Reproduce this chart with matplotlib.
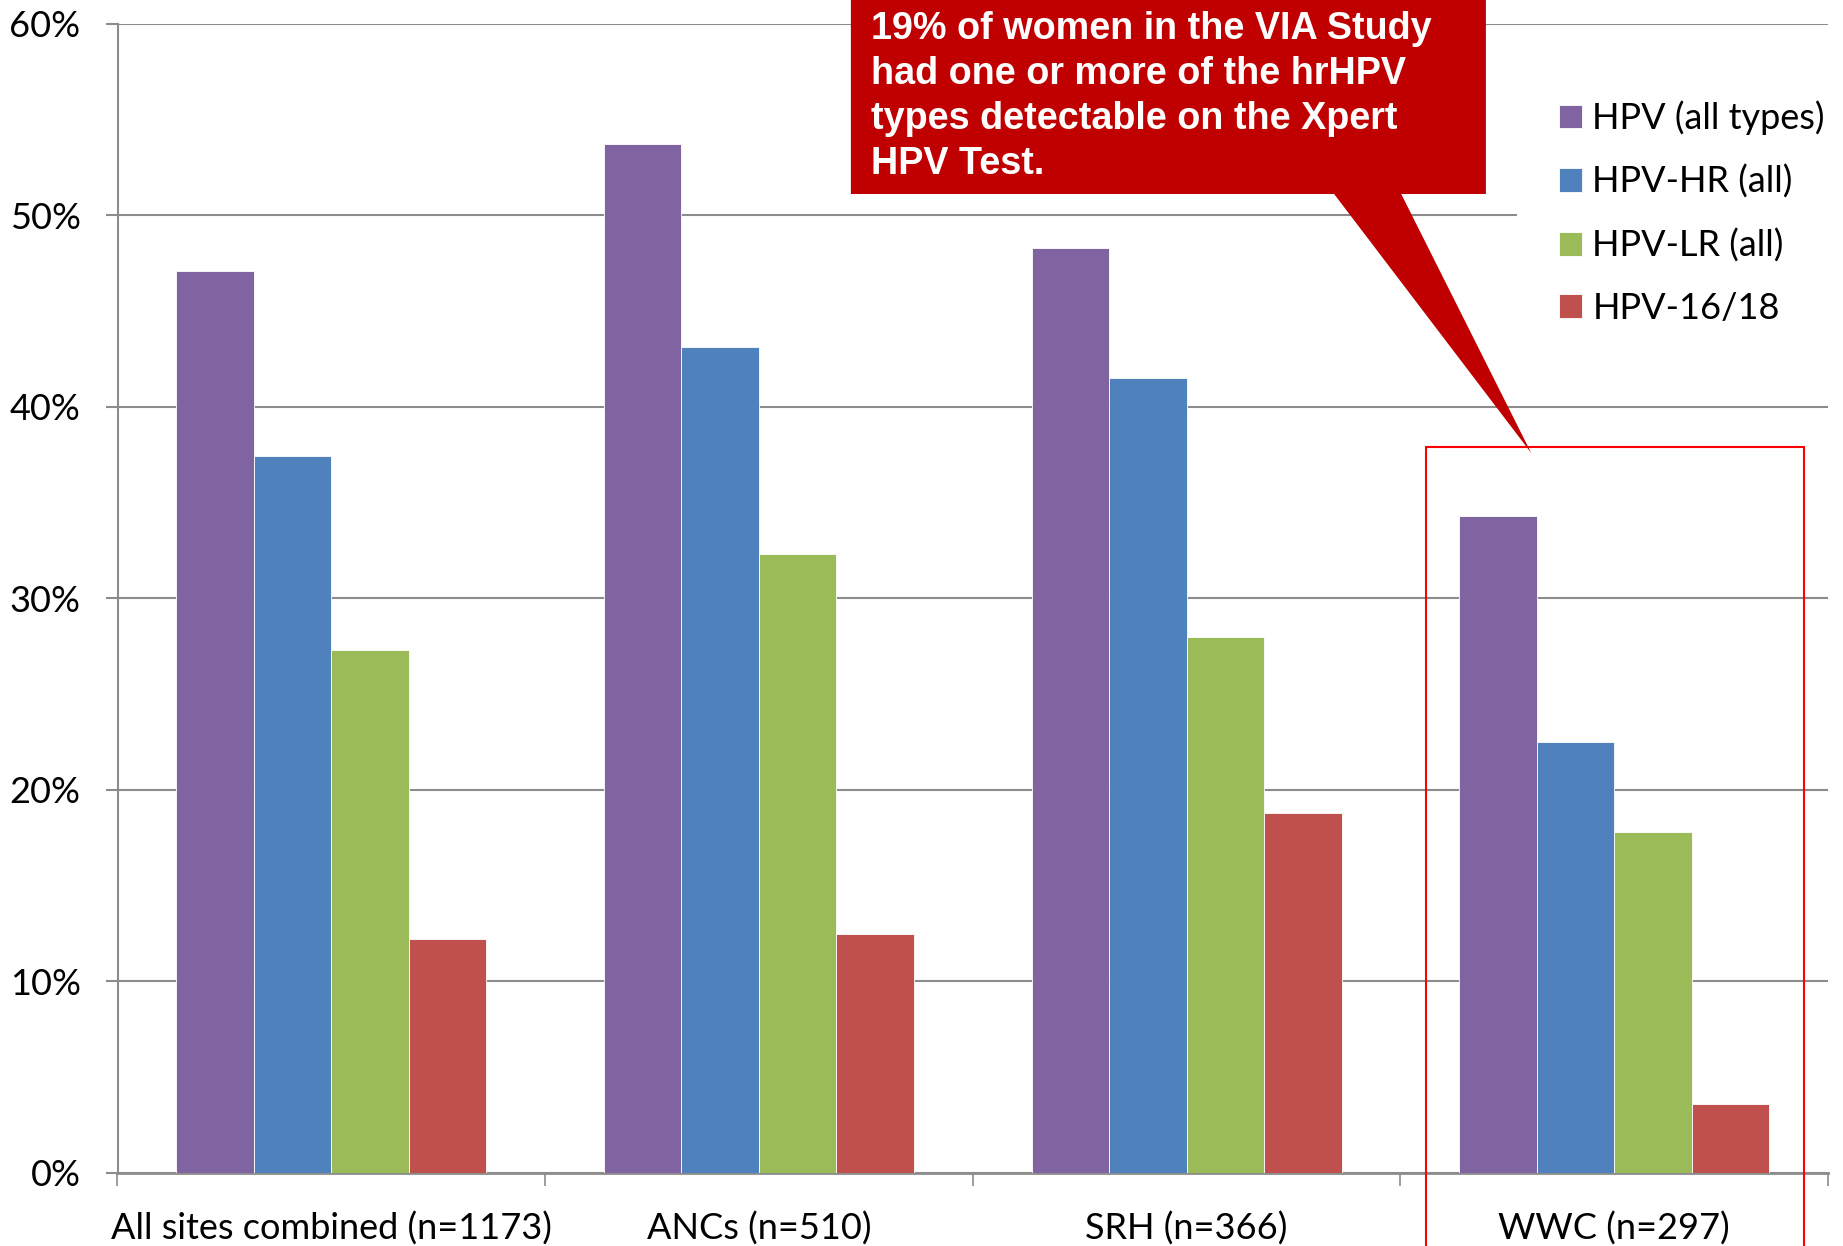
import matplotlib
matplotlib.use("Agg")
import matplotlib.pyplot as plt
from matplotlib.patches import Polygon, Rectangle
import numpy as np

# Prevalence by site (fractions)
categories = ["All sites combined (n=1173)", "ANCs (n=510)", "SRH (n=366)", "WWC (n=297)"]
series_names = ["HPV (all types)", "HPV-HR (all)", "HPV-LR (all)", "HPV-16/18"]
hpv_all = [0.471, 0.537, 0.483, 0.343]
hpv_hr = [0.374, 0.431, 0.415, 0.225]
hpv_lr = [0.273, 0.323, 0.280, 0.178]
hpv_1618 = [0.122, 0.125, 0.188, 0.036]
y_ticks = [0.0, 0.1, 0.2, 0.3, 0.4, 0.5, 0.6]
y_tick_labels = ["0%", "10%", "20%", "30%", "40%", "50%", "60%"]
callout_text = ("19% of women in the VIA Study\n"
                "had one or more of the hrHPV\n"
                "types detectable on the Xpert\n"
                "HPV Test.")

colors = ["#8064A2", "#4F81BD", "#9BBB59", "#C0504D"]
grid_gray = "#8C8C8C"

plt.rcParams["font.family"] = ["Lato", "DejaVu Sans"]

W, H = 1843, 1246
fig = plt.figure(figsize=(W / 100, H / 100), dpi=100)
ax = fig.add_axes([117.5 / W, 1 - 1173 / H, (1828 - 117.5) / W, (1173 - 23.5) / H])

x = np.arange(len(categories))
bar_w = 0.725 / 4
all_series = [hpv_all, hpv_hr, hpv_lr, hpv_1618]
for i, (vals, name) in enumerate(zip(all_series, series_names)):
    offs = (i - 1.5) * bar_w
    ax.bar(x + offs, vals, width=bar_w, color=colors[i], label=name,
           edgecolor="#FFFFFF", linewidth=0.6, zorder=3)

ax.set_xlim(-0.5, len(categories) - 0.5)
ax.set_ylim(0, 0.6)
ax.set_yticks(y_ticks)
ax.set_yticklabels(y_tick_labels, fontsize=26)
ax.yaxis.grid(True, color=grid_gray, linewidth=1.5, zorder=0)
ax.set_axisbelow(True)

ax.set_xticks(x)
ax.set_xticklabels(categories, fontsize=26)
ax.set_xticks(np.arange(-0.5, len(categories)), minor=True)
ax.tick_params(axis="x", which="major", length=0, pad=28)
ax.tick_params(axis="x", which="minor", length=9, width=1.2, color=grid_gray)
ax.tick_params(axis="y", which="major", length=8.6, width=1.5, color=grid_gray, pad=18)

for s in ["top", "right"]:
    ax.spines[s].set_visible(False)
ax.spines["left"].set_color(grid_gray)
ax.spines["left"].set_linewidth(1.5)
ax.spines["bottom"].set_color(grid_gray)
ax.spines["bottom"].set_linewidth(2)

# Highlight frame around the WWC group
ax.add_patch(Rectangle((2.559, -0.06), 3.444 - 2.559, 0.379 + 0.06, fill=False,
                       edgecolor="#FF0000", linewidth=1.5, clip_on=False, zorder=5))

# Callout with pointer
callout = Polygon([(1.215, 0.70), (2.700, 0.70), (2.700, 0.511), (2.502, 0.511),
                   (2.806, 0.3758), (2.345, 0.511), (1.215, 0.511)],
                  closed=True, facecolor="#C00000", edgecolor="none",
                  clip_on=False, zorder=6)
ax.add_patch(callout)
ax.text(1.263, 0.6065, callout_text, color="white", fontsize=27.2, fontweight="bold",
        family=["Liberation Sans", "DejaVu Sans"],
        ha="left", va="top", linespacing=1.32, zorder=7, clip_on=False)

leg = ax.legend(loc="upper left", bbox_to_anchor=(1517 / W, 1 - 59 / H),
                bbox_transform=fig.transFigure, frameon=True, fontsize=26,
                handlelength=0.64, handleheight=0.64, handletextpad=0.3,
                labelspacing=0.82, borderaxespad=0, borderpad=1.15)
leg.get_frame().set_facecolor("white")
leg.get_frame().set_edgecolor("none")
leg.get_frame().set_alpha(1.0)
leg.get_frame().set_boxstyle("square", pad=0)

fig.savefig("out.png", dpi=100)
